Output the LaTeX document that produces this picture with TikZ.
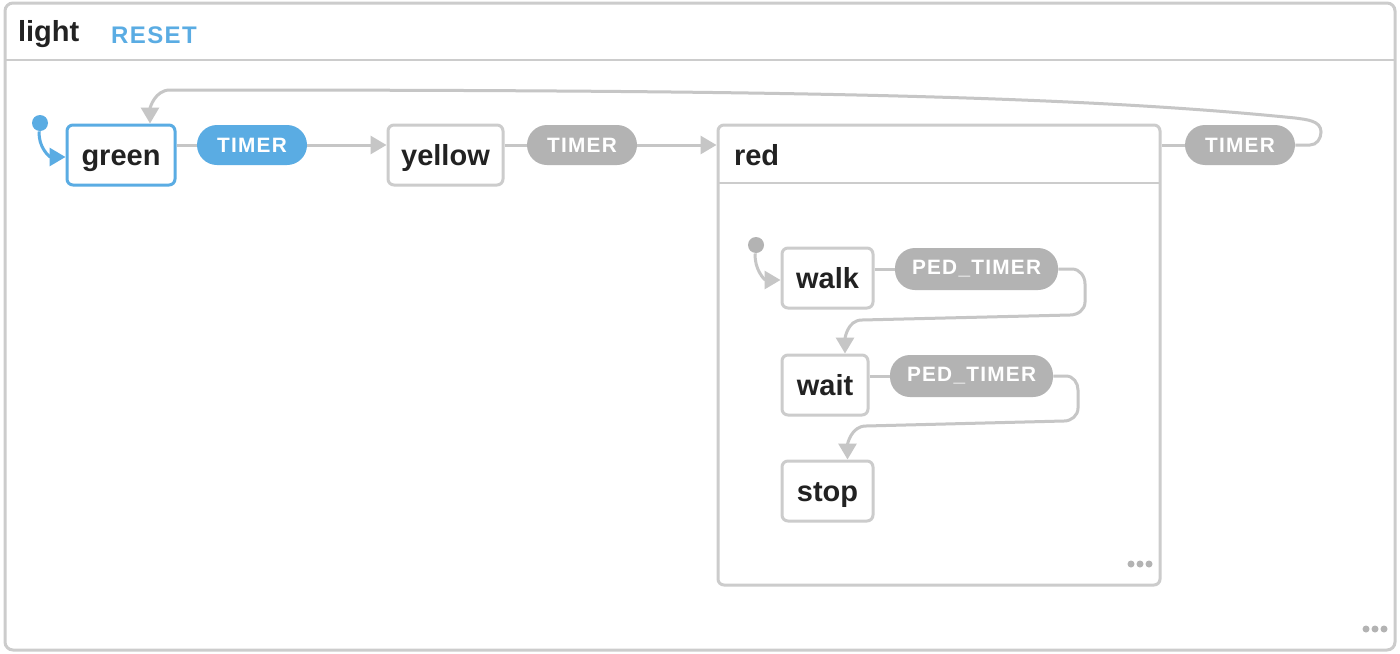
\documentclass[tikz,border=0pt]{standalone}
\usepackage{fontspec}
\setmainfont{Liberation Sans}
\newfontfamily\pillfont{Liberation Sans}[LetterSpace=6]
\usetikzlibrary{arrows.meta}

\definecolor{framegray}{HTML}{CCCCCC}
\definecolor{edgegray}{HTML}{C6C6C6}
\definecolor{pillgray}{HTML}{B3B3B3}
\definecolor{active}{HTML}{5AACE3}
\definecolor{ink}{HTML}{222222}

\tikzset{
  state/.style={draw=framegray, line width=1.5pt, rounded corners=3pt, fill=white,
    minimum height=30pt, text height=12pt, text depth=2pt, text=ink,
    font=\bfseries\fontsize{14.5}{16}\selectfont},
  activestate/.style={state, draw=active},
  pill/.style={fill=pillgray, rounded corners=10pt, minimum height=20pt,
    text=white, font=\pillfont\bfseries\fontsize{10.4}{12}\selectfont},
  activepill/.style={pill, fill=active},
  conn/.style={draw=edgegray, line width=1.5pt, -{Triangle[length=8pt,width=9pt]}},
  plain/.style={draw=edgegray, line width=1.5pt},
  initdot/.style={circle, inner sep=0pt, minimum size=8pt},
  more/.style={circle, fill=pillgray, inner sep=0pt, minimum size=3.5pt}
}

\begin{document}
\begin{tikzpicture}[x=0.5pt, y=-0.5pt]
  \useasboundingbox (0,0) rectangle (1400,653);

  % outer machine
  \draw[draw=framegray, line width=1.5pt, rounded corners=4pt, fill=white] (5,3) rectangle (1395,650);
  \draw[draw=framegray, line width=1.2pt] (5,60) -- (1395,60);
  \node[anchor=west, text=ink, font=\bfseries\fontsize{14.5}{16}\selectfont] (title) at (11,34) {light};
  \node[anchor=west, text=active, font=\pillfont\bfseries\fontsize{12}{14}\selectfont] (reset) at (104,35) {RESET};
  \foreach \x in {1366,1375,1384} \node[more] at (\x,629) {};

  % compound state red
  \node[draw=framegray, line width=1.5pt, rounded corners=3pt, fill=white,
    minimum width=221pt, minimum height=230pt] (red) at (939,355) {};
  \draw[draw=framegray, line width=1.2pt] (718,183) -- (1160,183);
  \node[anchor=west, text=ink, font=\bfseries\fontsize{14.5}{16}\selectfont] (redlabel) at (727,155) {red};
  \foreach \x in {1131,1140,1149} \node[more] at (\x,564) {};

  % top level states
  \node[activestate, minimum width=54pt] (green) at (121,155) {green};
  \node[state, minimum width=57.5pt] (yellow) at (445.5,155) {yellow};

  % transitions on top level
  \node[activepill, minimum width=55pt] (t1) at (252,145) {TIMER};
  \node[pill, minimum width=55pt] (t2) at (582,145) {TIMER};
  \node[pill, minimum width=55pt] (t3) at (1240,145) {TIMER};

  \node[initdot, fill=active] (gdot) at (40,123) {};
  \draw[conn, draw=active] (gdot) to[out=-95, in=180, looseness=1.1] ([yshift=-1pt]green.west);

  \draw[plain] (green.east |- t1) -- (t1.west);
  \draw[conn] (t1.east) -- (yellow.west |- t1);
  \draw[plain] (yellow.east |- t2) -- (t2.west);
  \draw[conn] (t2.east) -- (red.west |- t2);
  \draw[plain] (red.east |- t3) -- (t3.west);
  \draw[conn] (t3.east) -- (1310,145) to[out=0, in=-90] (1321,132) to[out=90, in=-8] (1295,118)
    .. controls (1050,93) and (700,90) .. (170,90) to[out=180, in=90] ([xshift=14.5pt]green.north);

  % states inside red
  \node[state, minimum width=45.5pt] (walk) at (827.5,278) {walk};
  \node[state, minimum width=43pt] (wait) at (825,385) {wait};
  \node[state, minimum width=45.5pt] (stop) at (827.5,491) {stop};

  \node[pill, minimum width=81.5pt, minimum height=21pt] (p1) at (976.5,269) {PED\_TIMER};
  \node[pill, minimum width=81.5pt, minimum height=21pt] (p2) at (971.5,376) {PED\_TIMER};

  \node[initdot, fill=pillgray] (rdot) at (756,245) {};
  \draw[conn] (rdot) to[out=-95, in=180, looseness=1.1] ([yshift=-1pt]walk.west);

  \draw[plain] (walk.east |- p1) -- (p1.west);
  \draw[conn] (p1.east) -- (1072,269) to[out=0, in=90] (1085,284) -- (1085,302) to[out=-90, in=0] (1070,315)
    -- (862,320) to[out=180, in=90] ([xshift=10pt]wait.north);
  \draw[plain] (wait.east |- p2) -- (p2.west);
  \draw[conn] (p2.east) -- (1066,376) to[out=0, in=90] (1078,390) -- (1078,408) to[out=-90, in=0] (1064,421)
    -- (866,426) to[out=180, in=90] ([xshift=10pt]stop.north);
\end{tikzpicture}
\end{document}
